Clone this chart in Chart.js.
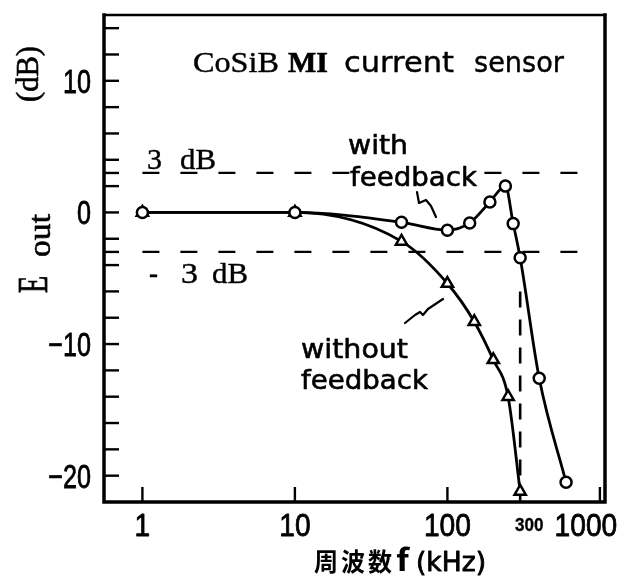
<!DOCTYPE html>
<html>
<head>
<meta charset="utf-8">
<script src="https://cdn.jsdelivr.net/npm/chart.js@4"></script>
<style>
  html, body { margin: 0; padding: 0; background: #fff; }
  #wrap { width: 642px; height: 588px; }
</style>
</head>
<body>
<div id="wrap"><canvas id="c" width="642" height="588"></canvas></div>
<script>
// Frequency response of the CoSiB MI current sensor (output in dB vs. frequency in kHz)
const freqWith     = [1, 10, 50, 100, 140, 190, 240, 270, 300, 400, 600];
const eoutWith     = [0, 0, -0.75, -1.35, -0.8, 0.8, 2.0, -0.85, -3.45, -12.6, -20.5];
const freqWithout  = [1, 10, 50, 100, 150, 200, 250, 300];
const eoutWithout  = [0, 0, -2.2, -5.4, -8.3, -11.2, -14.0, -21.2];

const xTickValues  = [1, 10, 100, 300, 1000];
const xTickLabels  = ['1', '10', '100', '300', '1000'];
const xTickMarks   = [1, 10, 100, 1000];
const yTickValues  = [10, 0, -10, -20];
const yTickLabels  = ['10', '0', '−10', '−20'];
const yTickMarks   = [14, 12, 10, 8, 6, 4, 3, 2, 0, -2, -3, -4, -6, -8, -10, -12, -14, -16, -18, -20];

const guideLevels  = [3, -3];          // ±3 dB guide lines
const guideSpan    = [1, 880];         // kHz range of the guide lines
const cutoffFreq   = 300;              // kHz, vertical marker
const cutoffSpan   = [-6, -22];        // dB range of the vertical marker

const pts = (xs, ys) => xs.map((x, i) => ({ x, y: ys[i] }));

// draws text squeezed or stretched horizontally to a given width, optionally thickened
function fitText(ctx, text, x, y, font, width, align, thick) {
  ctx.save();
  ctx.font = font;
  const w = ctx.measureText(text).width;
  const s = width ? width / w : 1;
  const drawnW = w * s;
  let x0 = x;
  if (align === 'center') x0 = x - drawnW / 2;
  else if (align === 'right') x0 = x - drawnW;
  ctx.translate(x0, y);
  ctx.scale(s, 1);
  ctx.textAlign = 'left';
  ctx.textBaseline = 'alphabetic';
  ctx.fillText(text, 0, 0);
  if (thick) {
    ctx.lineWidth = thick;
    ctx.lineJoin = 'round';
    ctx.strokeText(text, 0, 0);
  }
  ctx.restore();
}

function scaledText(ctx, text, x, y, font, sx, align, thick) {
  ctx.save();
  ctx.font = font;
  const w = ctx.measureText(text).width;
  ctx.restore();
  fitText(ctx, text, x, y, font, w * sx, align, thick);
}

function polyline(ctx, p, lw) {
  ctx.beginPath();
  ctx.moveTo(p[0][0], p[0][1]);
  for (let i = 1; i < p.length; i++) ctx.lineTo(p[i][0], p[i][1]);
  ctx.lineWidth = lw;
  ctx.lineJoin = 'round';
  ctx.lineCap = 'round';
  ctx.stroke();
}

const framePlugin = {
  id: 'frame',
  afterDraw(chart) {
    const ctx = chart.ctx;
    const a = chart.chartArea;
    const xs = chart.scales.x, ys = chart.scales.y;
    ctx.save();
    ctx.strokeStyle = '#000';
    ctx.fillStyle = '#000';

    // plot frame
    ctx.lineCap = 'square';
    ctx.lineWidth = 3.5;
    ctx.beginPath();
    ctx.moveTo(a.left, a.top); ctx.lineTo(a.left, a.bottom); ctx.lineTo(a.right, a.bottom); ctx.lineTo(a.right, a.top);
    ctx.stroke();
    ctx.lineWidth = 2.5;
    ctx.beginPath(); ctx.moveTo(a.left, a.top); ctx.lineTo(a.right, a.top); ctx.stroke();

    // inward tick marks
    ctx.lineCap = 'butt';
    ctx.lineWidth = 2.4;
    yTickMarks.forEach(v => {
      const y = ys.getPixelForValue(v);
      ctx.beginPath(); ctx.moveTo(a.left, y); ctx.lineTo(a.left + 15, y); ctx.stroke();
    });
    xTickMarks.forEach(v => {
      const x = xs.getPixelForValue(v);
      ctx.beginPath(); ctx.moveTo(x, a.bottom); ctx.lineTo(x, a.bottom - 15); ctx.stroke();
    });

    // y tick labels
    yTickValues.forEach((v, i) => {
      const y = ys.getPixelForValue(v);
      scaledText(ctx, yTickLabels[i], a.left - 13, y + 12, '34px "Liberation Sans"', 0.74, 'right', 0.8);
    });

    // x tick labels
    xTickValues.forEach((v, i) => {
      const x = xs.getPixelForValue(v);
      if (v === 300) {
        scaledText(ctx, xTickLabels[i], x + 9, a.bottom + 29, 'bold 18px "Liberation Sans"', 0.95, 'center', 0.3);
      } else if (v === 1000) {
        scaledText(ctx, xTickLabels[i], x - 14, a.bottom + 34, '32px "Liberation Sans"', 0.88, 'center', 0.8);
      } else {
        scaledText(ctx, xTickLabels[i], x, a.bottom + 34, '32px "Liberation Sans"', 0.88, 'center', 0.8);
      }
    });

    // x axis title
    const cjk = 'bold 25px "Noto Sans CJK JP"';
    fitText(ctx, '周', 314, 571, cjk, 24);
    fitText(ctx, '波', 341, 571, cjk, 24);
    fitText(ctx, '数', 368, 571, cjk, 24);
    fitText(ctx, 'f', 396, 571, 'bold 30px "Noto Sans CJK JP"', 13);
    fitText(ctx, '(kHz)', 416, 571, '27px "DejaVu Sans"', 70, null, 0.9);

    // y axis title (rotated)
    ctx.save();
    ctx.translate(47, 293);
    ctx.rotate(-Math.PI / 2);
    fitText(ctx, 'E', 0, 0, '42px "Liberation Serif"', 17, null, 0.8);
    fitText(ctx, 'out', 36, 3, '31px "Liberation Serif"', 43, null, 0.6);
    ctx.restore();
    ctx.save();
    ctx.translate(38, 102);
    ctx.rotate(-Math.PI / 2);
    fitText(ctx, '(dB)', 0, 0, '32px "Liberation Serif"', 56, null, 0.6);
    ctx.restore();

    // heading
    fitText(ctx, 'CoSiB', 193, 72, '30px "Liberation Serif"', 86, null, 0.4);
    fitText(ctx, 'MI', 288, 72, 'bold 30px "Liberation Serif"', 40, null, 0.6);
    fitText(ctx, 'current', 344, 72, '28px "DejaVu Sans"', 110, null, 0.4);
    fitText(ctx, 'sensor', 474, 72, '28px "DejaVu Sans"', 90, null, 0.4);

    // guide level labels
    const serif = '30px "Liberation Serif"';
    fitText(ctx, '3', 147, 169, serif, 15, null, 0.4);
    fitText(ctx, 'dB', 180, 169, serif, 36, null, 0.4);
    fitText(ctx, '-', 149, 283, serif, 9, null, 0.4);
    fitText(ctx, '3', 181, 283, serif, 17, null, 0.4);
    fitText(ctx, 'dB', 212, 283, serif, 36, null, 0.4);

    // curve labels (the +3 dB guide is broken where the label sits)
    ctx.save();
    ctx.fillStyle = '#fff';
    ctx.fillRect(350, ys.getPixelForValue(guideLevels[0]) - 4, 134, 8);
    ctx.restore();
    const lab = '26px "DejaVu Sans"';
    fitText(ctx, 'with', 348, 154, lab, 60, null, 0.6);
    fitText(ctx, 'feedback', 350, 186, lab, 127, null, 0.6);
    fitText(ctx, 'without', 301, 358, lab, 107, null, 0.6);
    fitText(ctx, 'feedback', 301, 389, lab, 127, null, 0.6);

    // leader squiggles
    polyline(ctx, [[417, 192], [419, 203], [426, 200], [431, 206], [436, 217]], 2.2);
    polyline(ctx, [[405, 323], [415, 315], [420, 312], [423, 315], [428, 309], [443, 299]], 2.2);

    ctx.restore();
  }
};

const lineStyle = {
  borderColor: '#000',
  borderWidth: 2.8,
  pointBackgroundColor: '#fff',
  pointBorderColor: '#000',
  pointBorderWidth: 2.5,
  cubicInterpolationMode: 'monotone',
  fill: false
};

const guideStyle = {
  borderColor: '#000',
  borderWidth: 2.2,
  pointRadius: 0,
  fill: false,
  tension: 0
};

new Chart(document.getElementById('c'), {
  type: 'line',
  data: {
    datasets: [
      Object.assign({ label: 'with feedback', data: pts(freqWith, eoutWith), pointStyle: 'circle', pointRadius: 5.5 }, lineStyle),
      Object.assign({ label: 'without feedback', data: pts(freqWithout, eoutWithout), pointStyle: 'triangle', pointRadius: 6.5 }, lineStyle),
      Object.assign({ label: '+3 dB', data: guideSpan.map(x => ({ x, y: guideLevels[0] })), borderDash: [17, 21] }, guideStyle),
      Object.assign({ label: '-3 dB', data: guideSpan.map(x => ({ x, y: guideLevels[1] })), borderDash: [17, 21] }, guideStyle),
      Object.assign({ label: '300 kHz', data: cutoffSpan.map(y => ({ x: cutoffFreq, y })), borderDash: [16, 12], borderWidth: 2.6 }, { borderColor: '#000', pointRadius: 0, fill: false })
    ]
  },
  options: {
    responsive: false,
    devicePixelRatio: 1,
    animation: false,
    layout: { padding: { top: 15, right: 37, left: 0, bottom: 0 } },
    plugins: { legend: { display: false }, tooltip: { enabled: false } },
    scales: {
      x: {
        type: 'logarithmic', min: 0.56, max: 1080, bounds: 'data',
        ticks: { display: false }, grid: { display: false }, border: { display: false },
        afterFit: s => { s.height = 86; }
      },
      y: {
        type: 'linear', min: -22, max: 15, bounds: 'data',
        ticks: { display: false }, grid: { display: false }, border: { display: false },
        afterFit: s => { s.width = 104; }
      }
    }
  },
  plugins: [framePlugin]
});
</script>
</body>
</html>
